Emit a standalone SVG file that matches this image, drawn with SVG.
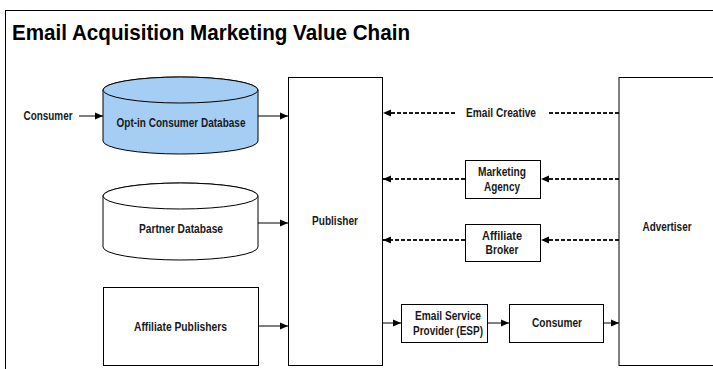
<svg xmlns="http://www.w3.org/2000/svg" width="713" height="369" viewBox="0 0 713 369">
  <defs>
    <marker id="arrow" viewBox="0 0 8 8" refX="8" refY="4" markerWidth="8" markerHeight="8" markerUnits="userSpaceOnUse" orient="auto">
      <path d="M0,0.5 L8,4 L0,7.5 Z" fill="#000"/>
    </marker>
    <style>
      .frame { fill: #fff; stroke: #000; stroke-width: 1; }
      .box { fill: #fff; stroke: #000; stroke-width: 1; }
      .db-blue { fill: #a6cef5; stroke: #000; stroke-width: 1; }
      .db-white { fill: #fff; stroke: #000; stroke-width: 1; }
      .lbl { font-family: "Liberation Sans", Arial, sans-serif; font-weight: bold; font-size: 12px; fill: #1a1a1a; text-anchor: middle; }
      .title { font-family: "Liberation Sans", Arial, sans-serif; font-weight: bold; font-size: 22px; fill: #000; }
      .solid { fill: none; stroke: #000; stroke-width: 1; marker-end: url(#arrow); }
      .dash { fill: none; stroke: #1a1a1a; stroke-width: 2; stroke-dasharray: 4 2; }
      .dash-arrow { fill: none; stroke: #1a1a1a; stroke-width: 2; stroke-dasharray: 4 2; marker-end: url(#arrow); }
    </style>
  </defs>

  <rect width="713" height="369" fill="#fff"/>

  <!-- outer frame -->
  <rect class="frame" x="5.5" y="10.5" width="720" height="380"/>
  <text class="title" x="12" y="40" textLength="398" lengthAdjust="spacingAndGlyphs">Email Acquisition Marketing Value Chain</text>

  <!-- connectors -->
  <g id="connectors">
    <line class="solid" x1="79" y1="116" x2="103" y2="116"/>
    <line class="solid" x1="258" y1="116" x2="288" y2="116"/>
    <line class="solid" x1="258" y1="223" x2="288" y2="223"/>
    <line class="solid" x1="258" y1="326" x2="288" y2="326"/>

    <line class="dash-arrow" x1="455" y1="113" x2="383" y2="113"/>
    <line class="dash" x1="619" y1="113" x2="548" y2="113"/>

    <line class="dash-arrow" x1="465" y1="179" x2="383" y2="179"/>
    <line class="dash-arrow" x1="619" y1="179" x2="541" y2="179"/>

    <line class="dash-arrow" x1="465" y1="240" x2="383" y2="240"/>
    <line class="dash-arrow" x1="619" y1="240" x2="541" y2="240"/>

    <line class="solid" x1="382" y1="323" x2="401" y2="323"/>
    <line class="solid" x1="487" y1="323" x2="509" y2="323"/>
    <line class="solid" x1="603" y1="323" x2="619" y2="323"/>

    <text class="lbl" x="501" y="117" textLength="70" lengthAdjust="spacingAndGlyphs">Email Creative</text>
  </g>

  <g id="consumer-source">
    <text class="lbl" x="48" y="120" textLength="49" lengthAdjust="spacingAndGlyphs">Consumer</text>
  </g>

  <g id="optin-db">
    <path class="db-blue" d="M103,90 L103,141 A77.5,13 0 0 0 258,141 L258,90 A77.5,13 0 0 0 103,90 Z"/>
    <ellipse class="db-blue" cx="180.5" cy="90" rx="77.5" ry="13"/>
    <text class="lbl" x="181" y="127" textLength="129" lengthAdjust="spacingAndGlyphs">Opt-in Consumer Database</text>
  </g>

  <g id="partner-db">
    <path class="db-white" d="M103,196 L103,247 A77.5,13 0 0 0 258,247 L258,196 A77.5,13 0 0 0 103,196 Z"/>
    <ellipse class="db-white" cx="180.5" cy="196" rx="77.5" ry="13"/>
    <text class="lbl" x="181" y="233" textLength="84" lengthAdjust="spacingAndGlyphs">Partner Database</text>
  </g>

  <g id="affiliate-publishers">
    <rect class="box" x="103.5" y="287.5" width="155" height="78"/>
    <text class="lbl" x="180.5" y="331" textLength="93" lengthAdjust="spacingAndGlyphs">Affiliate Publishers</text>
  </g>

  <g id="publisher">
    <rect class="box" x="288.5" y="77.5" width="94" height="288"/>
    <text class="lbl" x="335" y="225" textLength="46" lengthAdjust="spacingAndGlyphs">Publisher</text>
  </g>

  <g id="marketing-agency">
    <rect class="box" x="465.5" y="160.5" width="75" height="38"/>
    <text class="lbl" x="502" y="176" textLength="48" lengthAdjust="spacingAndGlyphs">Marketing</text>
    <text class="lbl" x="502" y="191" textLength="36" lengthAdjust="spacingAndGlyphs">Agency</text>
  </g>

  <g id="affiliate-broker">
    <rect class="box" x="465.5" y="224.5" width="75" height="37"/>
    <text class="lbl" x="502" y="240" textLength="40" lengthAdjust="spacingAndGlyphs">Affiliate</text>
    <text class="lbl" x="502" y="254" textLength="33" lengthAdjust="spacingAndGlyphs">Broker</text>
  </g>

  <g id="esp">
    <rect class="box" x="401.5" y="304.5" width="86" height="38"/>
    <text class="lbl" x="448" y="320" textLength="66" lengthAdjust="spacingAndGlyphs">Email Service</text>
    <text class="lbl" x="448" y="335" textLength="70" lengthAdjust="spacingAndGlyphs">Provider (ESP)</text>
  </g>

  <g id="consumer">
    <rect class="box" x="509.5" y="304.5" width="94" height="38"/>
    <text class="lbl" x="557" y="327" textLength="50" lengthAdjust="spacingAndGlyphs">Consumer</text>
  </g>

  <g id="advertiser">
    <rect class="box" x="619" y="77.5" width="110" height="288"/>
    <text class="lbl" x="667" y="231" textLength="49" lengthAdjust="spacingAndGlyphs">Advertiser</text>
  </g>
</svg>
